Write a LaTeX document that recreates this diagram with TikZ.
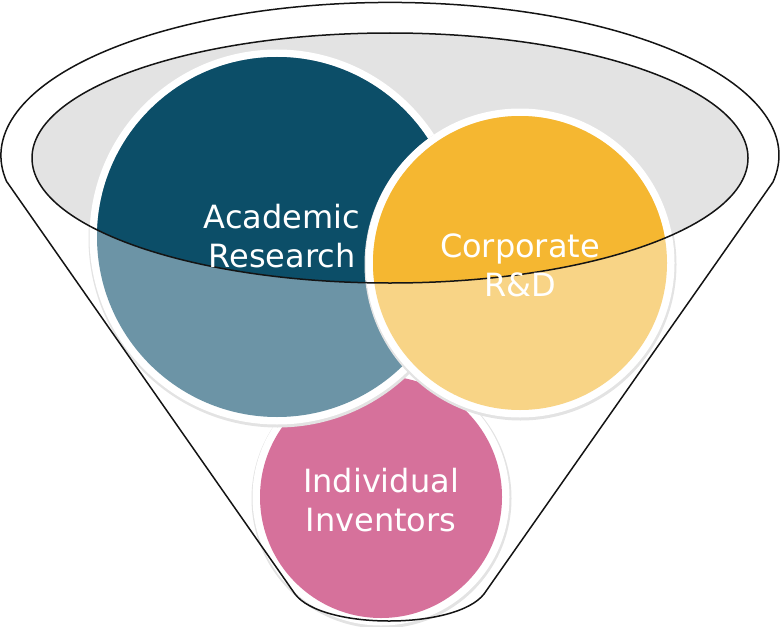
\documentclass[tikz,border=0pt]{standalone}
\usepackage{fontspec}
\setmainfont{DejaVu Sans}
\usetikzlibrary{calc}
\definecolor{acaDark}{HTML}{0C4E68}
\definecolor{acaLight}{HTML}{6C94A6}
\definecolor{corDark}{HTML}{F5B731}
\definecolor{corLight}{HTML}{F8D486}
\definecolor{pinkC}{HTML}{D6719B}
\definecolor{rimGray}{HTML}{E3E3E3}
\tikzset{
  funnelline/.style={draw=black!92, line width=1.5pt, line join=round},
  ringshadow/.style={fill=black!11},
  ringwhite/.style={fill=white},
  label/.style={text=white, align=center, font=\fontsize{32}{39}\selectfont, inner sep=0pt}
}
\begin{document}
\begin{tikzpicture}[x=1pt,y=-1pt]
\useasboundingbox (0,0) rectangle (781,626);
% rim
\fill[rimGray] (390,158) ellipse[x radius=358, y radius=125];
% circles: pink, academic, corporate
\coordinate (pc) at (381,497);
\coordinate (ac) at (277,237);
\coordinate (cc) at (520,263);
% pink
\fill[ringshadow] ($(pc)+(0.5,1.5)$) circle[radius=130];
\fill[ringwhite] (pc) circle[radius=128.5];
\fill[pinkC] (pc) circle[radius=121];
% academic
\fill[ringshadow] ($(ac)+(0.5,1.5)$) circle[radius=189];
\fill[ringwhite] (ac) circle[radius=187.5];
\fill[acaLight] (ac) circle[radius=180];
\begin{scope}
  \clip (390,158) ellipse[x radius=358, y radius=125];
  \fill[acaDark] (ac) circle[radius=180];
\end{scope}
% corporate
\fill[ringshadow] ($(cc)+(0.5,1.5)$) circle[radius=156];
\fill[ringwhite] (cc) circle[radius=154.5];
\fill[corLight] (cc) circle[radius=147];
\begin{scope}
  \clip (390,158) ellipse[x radius=358, y radius=125];
  \fill[corDark] (cc) circle[radius=147];
\end{scope}
% funnel outline
\draw[funnelline] (7,182) -- (295,594) .. controls (322,630) and (456,630) .. (484,594)
  -- (773,182) arc[start angle=10, end angle=-190, x radius=389, y radius=153] -- cycle;
% rim outline
\draw[funnelline] (390,158) ellipse[x radius=358, y radius=125];
% labels
\node[label] (acad) at (282,236) {Academic\\Research};
\node[label] (corp) at (520,265) {Corporate\\R\&D};
\node[label] (indiv) at (381,500) {Individual\\Inventors};
\end{tikzpicture}
\end{document}
